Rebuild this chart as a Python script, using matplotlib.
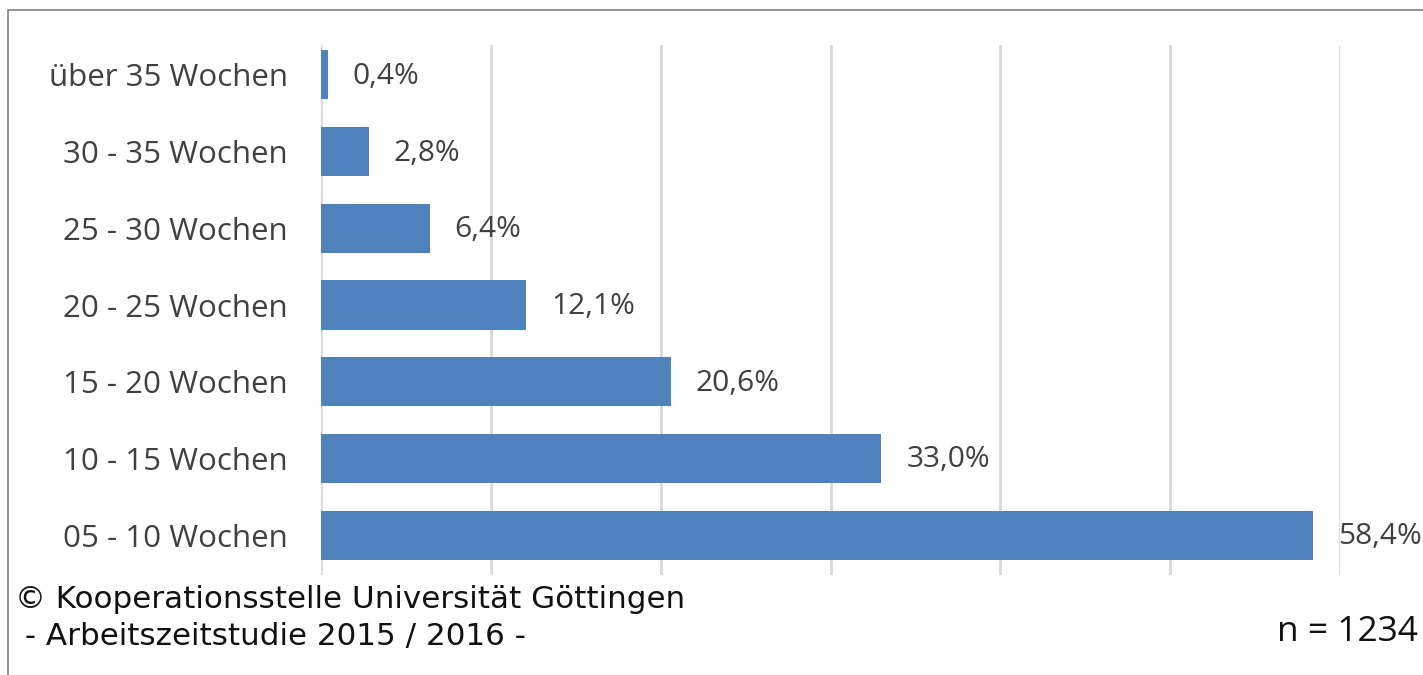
import matplotlib.pyplot as plt
from matplotlib.patches import Rectangle

# Data (bottom to top)
categories = ['05 - 10 Wochen', '10 - 15 Wochen', '15 - 20 Wochen', '20 - 25 Wochen',
              '25 - 30 Wochen', '30 - 35 Wochen', 'über 35 Wochen']
shares = [58.4, 33.0, 20.6, 12.1, 6.4, 2.8, 0.4]
value_labels = ['58,4%', '33,0%', '20,6%', '12,1%', '6,4%', '2,8%', '0,4%']

bar_color = '#4F81BD'
text_color = '#404040'

fig = plt.figure(figsize=(14.23, 6.75), dpi=100)
W, H = 1423, 675
ax = fig.add_axes([321 / W, 1 - 575 / H, (1340 - 321) / W, (575 - 45) / H])

y = range(len(categories))
ax.barh(y, shares, height=0.64, color=bar_color, zorder=3)

for yi, v, lab in zip(y, shares, value_labels):
    ax.annotate(lab, (v, yi), xytext=(18, -1), textcoords='offset points',
                va='center', ha='left', fontsize=21.5, color=text_color,
                family='Open Sans')

ax.set_xlim(0, 60)
ax.set_ylim(-0.52, 6.39)
ax.set_xticks(range(0, 61, 10))
ax.set_xticklabels([])
ax.set_yticks(list(y))
ax.set_yticklabels(categories, fontsize=22.5, color=text_color, family='Open Sans')
ax.tick_params(axis='both', length=0, pad=24)
ax.grid(axis='x', color='#d9d9d9', linewidth=2, zorder=0)
for s in ax.spines.values():
    s.set_visible(False)

# outer frame (left and top edges visible)
fig.add_artist(Rectangle((8 / W, -0.1), 1.2, 1 - 10 / H + 0.1, transform=fig.transFigure,
                         fill=False, edgecolor='#808080', linewidth=1.2))

fig.text(15 / W, 1 - 600 / H, '© Kooperationsstelle Universität Göttingen',
         fontsize=22.3, va='center', ha='left', color='#111111')
fig.text(15 / W, 1 - 636 / H, ' - Arbeitszeitstudie 2015 / 2016 -',
         fontsize=22.3, va='center', ha='left', color='#111111')
fig.text(1418 / W, 1 - 632 / H, 'n = 1234', fontsize=25.5, va='center', ha='right',
         color='#111111', family='Open Sans')

fig.savefig('out.png', dpi=100)
